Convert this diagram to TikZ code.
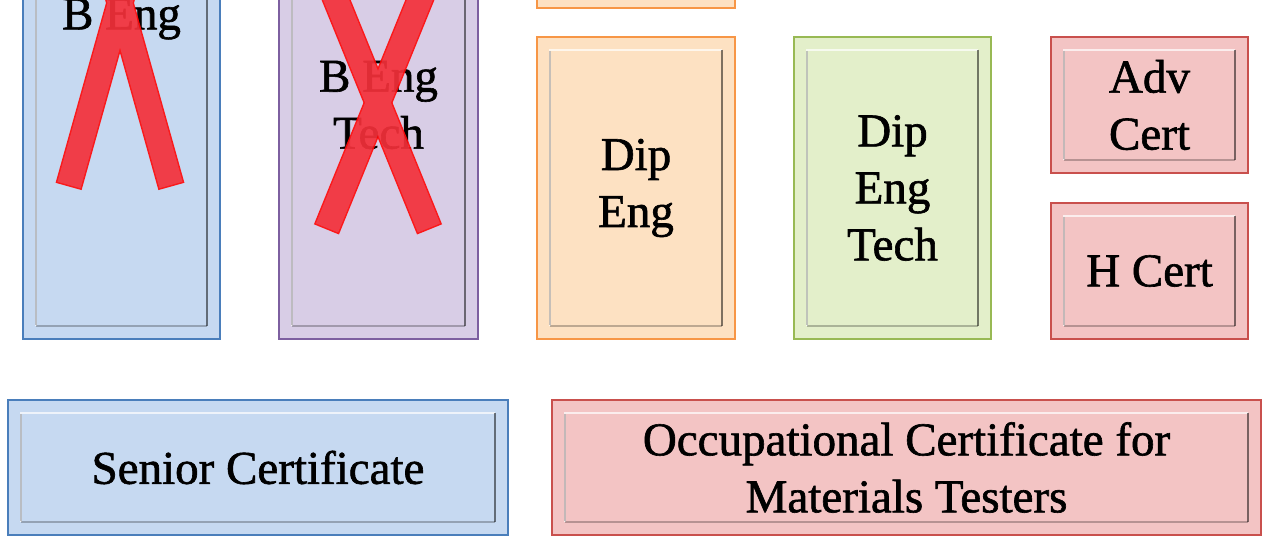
\documentclass[tikz,border=0pt]{standalone}
\usepackage{fontspec}
\setmainfont{Liberation Serif}[FakeBold=1.2]
\newfontfamily\boxfont{Liberation Serif}[FakeBold=1.3]
\usetikzlibrary{calc}
\definecolor{blueF}{HTML}{C6D9F1}\definecolor{blueD}{HTML}{4A7EBB}
\definecolor{purpF}{HTML}{D8CDE6}\definecolor{purpD}{HTML}{7D5FA0}
\definecolor{oranF}{HTML}{FDE1C2}\definecolor{oranD}{HTML}{F79646}
\definecolor{greeF}{HTML}{E3EFCA}\definecolor{greeD}{HTML}{98B954}
\definecolor{redF}{HTML}{F3C4C4}\definecolor{redD}{HTML}{C9504D}
\definecolor{xFill}{HTML}{F4303A}\definecolor{xEdge}{HTML}{FF0A0A}
\tikzset{
  box/.style 2 args={rectangle, draw=#2, fill=#1, line width=2.4pt, inner sep=0pt,
    align=center, font=\boxfont\fontsize{47}{57}\selectfont,
    path picture={
      \path ([shift={(13pt,-13pt)}]path picture bounding box.north west) coordinate (pnw)
            ([shift={(-13pt,13pt)}]path picture bounding box.south east) coordinate (pse);
      \draw[white, opacity=.7, line width=1.4pt] (pnw|-pse) -- (pnw) -- (pse|-pnw);
      \draw[black, opacity=.22, line width=1.2pt] ([yshift=-1pt]pnw) -- ([yshift=1pt]pnw|-pse);
      \draw[black, opacity=.5, line width=1.4pt] (pse|-pnw) -- (pse);
      \draw[black, opacity=.25, line width=1.6pt] (pse) -- (pnw|-pse);
    }},
  xleg/.style={fill=xFill},
  xedge/.style={draw=xEdge, line width=3pt, line join=miter},
}
\newcommand\legpath[3]{($(#1)!#3!90:(#2)$) -- ($(#2)!#3!-90:(#1)$) -- ($(#2)!#3!90:(#1)$) -- ($(#1)!#3!-90:(#2)$) -- cycle}
\begin{document}
\begin{tikzpicture}[x=1pt,y=-1pt]
\useasboundingbox (0,0) rectangle (1263,537);
\clip (0,0) rectangle (1263,537);
% top row
\node[box={blueF}{blueD}, minimum width=197pt, minimum height=640pt] (beng) at (121.5,19) {B Eng};
\node[box={purpF}{purpD}, minimum width=199pt, minimum height=468pt] (bengtech) at (378.5,105) {B Eng\\Tech};
\node[box={oranF}{oranD}, minimum width=198pt, minimum height=208pt] (diptop) at (636,-96) {};
\node[box={oranF}{oranD}, minimum width=198pt, minimum height=302pt] (dipeng) at (636,188) {\raisebox{-4pt}{Dip}\\\raisebox{-4pt}{Eng}};
\node[box={greeF}{greeD}, minimum width=197pt, minimum height=302pt] (dipengtech) at (892.5,188) {\raisebox{-3pt}{Dip}\\\raisebox{-3pt}{Eng}\\\raisebox{-3pt}{Tech}};
\node[box={redF}{redD}, minimum width=197pt, minimum height=136pt] (advcert) at (1149.5,105) {Adv\\Cert};
\node[box={redF}{redD}, minimum width=197pt, minimum height=136pt] (hcert) at (1149.5,271) {H Cert};
% bottom row
\node[box={blueF}{blueD}, minimum width=500pt, minimum height=135pt] (senior) at (258,467.5) {Senior Certificate};
\node[box={redF}{redD}, minimum width=709pt, minimum height=135pt] (occ) at (906.5,467.5) {Occupational Certificate for\\Materials Testers};
% red crosses
\begin{scope}[transparency group, opacity=.92]
  \coordinate (a1) at (69,185); \coordinate (a2) at (171,-179);
  \coordinate (b1) at (171,185); \coordinate (b2) at (69,-179);
  \path[xedge] \legpath{a1}{a2}{12pt};
  \path[xedge] \legpath{b1}{b2}{12pt};
  \path[xleg] \legpath{a1}{a2}{12pt};
  \path[xleg] \legpath{b1}{b2}{12pt};
\end{scope}
\begin{scope}[transparency group, opacity=.92]
  \coordinate (c1) at (327,228); \coordinate (c2) at (439,-47);
  \coordinate (d1) at (429,228); \coordinate (d2) at (317,-47);
  \path[xedge] \legpath{c1}{c2}{12pt};
  \path[xedge] \legpath{d1}{d2}{12pt};
  \path[xleg] \legpath{c1}{c2}{12pt};
  \path[xleg] \legpath{d1}{d2}{12pt};
\end{scope}
\end{tikzpicture}
\end{document}
